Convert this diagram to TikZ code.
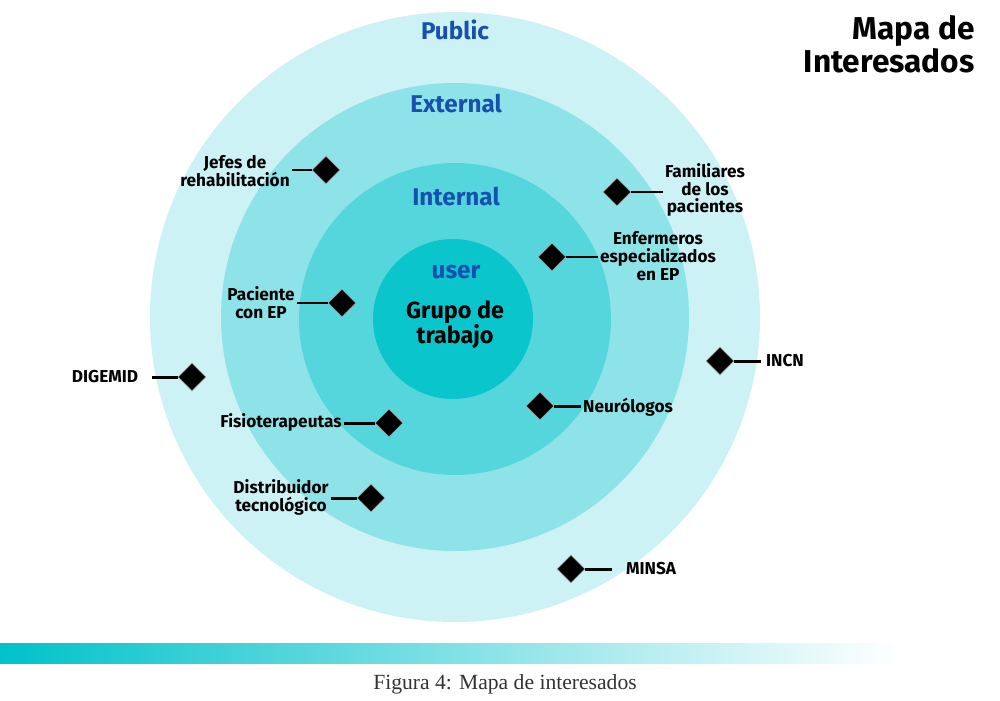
\documentclass[tikz,border=0pt]{standalone}
\usepackage{fontspec}
\setmainfont{Fira Sans}
\newfontfamily\capfont{Liberation Serif}
\usetikzlibrary{shapes.geometric}
\definecolor{ringpub}{HTML}{CCF2F5}
\definecolor{ringext}{HTML}{8EE3E8}
\definecolor{ringint}{HTML}{55D6DC}
\definecolor{ringuser}{HTML}{0BC5CD}
\definecolor{ringblue}{HTML}{1750AE}
\definecolor{barcyan}{HTML}{00C2CA}
\begin{document}
\begin{tikzpicture}[x=0.02cm,y=-0.02cm,line cap=butt,thick]
			\tikzset{every node/.style={font=\bfseries\fontsize{9.8}{10.2}\selectfont, align=center, inner sep=1pt}}
			\tikzset{diam/.style={diamond, fill=black, draw=gray!70, thin, inner sep=0pt, minimum size=0.56cm}}
			\tikzset{ringlbl/.style={text=ringblue, font=\bfseries\fontsize{13.8}{15}\selectfont}}
			\tikzset{tie/.style={line width=1.7pt}}
			\useasboundingbox (0,0) rectangle (1000,700);
			% rings
			\fill[ringpub] (455,317) circle (305);
			\fill[ringext] (455,317) circle (234);
			\fill[ringint] (455,319) circle (156);
			\fill[ringuser] (453,319) circle (80);
			\node[ringlbl] (pub) at (455,30) {Public};
			\node[ringlbl] (ext) at (456,104) {External};
			\node[ringlbl] (int) at (456,197) {Internal};
			\node[ringlbl] (usr) at (456,272) {user};
			\node[font=\bfseries\fontsize{13.3}{14.2}\selectfont] (grupo) at (455,325) {Grupo de\\trabajo};
			% title
			\node[anchor=north east, align=right, font=\bfseries\fontsize{18}{18.7}\selectfont] (titulo) at (977,13) {Mapa de\\Interesados};
			% stakeholders
			\node[diam] (jefes) at (326,170) {};
			\node (jefesL) at (235,171) {Jefes de\\rehabilitación};
			\node[diam] (fam) at (617,192) {};
			\node (famL) at (705,190) {Familiares\\de los\\pacientes};
			\node[diam] (enf) at (552,257) {};
			\node (enfL) at (658,256) {Enfermeros\\especializados\\en EP};
			\node[diam] (pac) at (342,303) {};
			\node (pacL) at (261,303) {Paciente\\con EP};
			\node[diam] (dig) at (192,377) {};
			\node (digL) at (105,377) {DIGEMID};
			\node[diam] (incn) at (720,361) {};
			\node (incnL) at (785,361) {INCN};
			\node[diam] (neu) at (540,406) {};
			\node (neuL) at (628,407) {Neurólogos};
			\node[diam] (fis) at (389,423) {};
			\node (fisL) at (281,422) {Fisioterapeutas};
			\node[diam] (dis) at (371,498) {};
			\node (disL) at (281,497) {Distribuidor\\tecnológico};
			\node[diam] (min) at (571,569) {};
			\node (minL) at (651,569) {MINSA};
			\draw[tie] (jefesL.east |- jefes) -- (jefes);
			\draw[tie] (fam) -- (famL.west |- fam);
			\draw[tie] (enf) -- (enfL.west |- enf);
			\draw[tie] (pacL.east |- pac) -- (pac);
			\draw[tie, shorten <=0.22cm] (digL.east |- dig) -- (dig);
			\draw[tie, shorten >=0.06cm] (incn) -- (incnL.west |- incn);
			\draw[tie] (neu) -- (neuL.west |- neu);
			\draw[tie] (fisL.east |- fis) -- (fis);
			\draw[tie] (disL.east |- dis) -- (dis);
			\draw[tie, shorten >=0.24cm] (min) -- (minL.west |- min);
			% bar and caption
			\shade[left color=barcyan, right color=white] (0,643) rectangle (900,663);
			\node[font=\capfont\fontsize{12.3}{14}\selectfont, text=black!80] (cap) at (505,684) {Figura 4: Mapa de interesados};
\end{tikzpicture}
\end{document}
